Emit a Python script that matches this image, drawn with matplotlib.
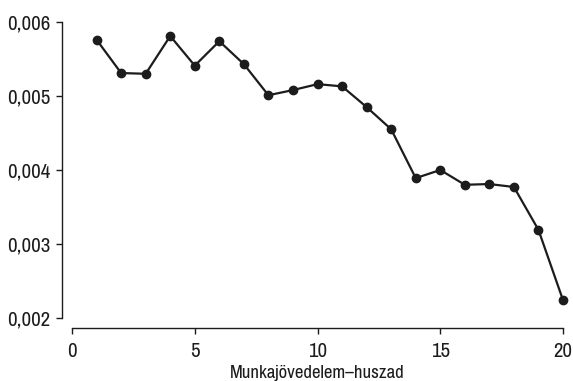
import matplotlib
matplotlib.use("Agg")
import matplotlib.pyplot as plt
from matplotlib.ticker import FuncFormatter

plt.rcParams['font.family'] = ['Archivo Narrow', 'DejaVu Sans']

x = list(range(1, 21))
y = [0.00576, 0.00531, 0.00530, 0.00581, 0.00541, 0.00574, 0.00543, 0.00501,
     0.00508, 0.00516, 0.00513, 0.00485, 0.00455, 0.00389, 0.00400, 0.00380,
     0.00381, 0.00377, 0.00319, 0.00224]
xticks = [0, 5, 10, 15, 20]
yticks = [0.002, 0.003, 0.004, 0.005, 0.006]
xlabel = "Munkajövedelem–huszad"

fig = plt.figure(figsize=(5.73, 3.81), dpi=100)
ax = fig.add_axes([0.1257, 0.1654, 0.8569, 0.7769])
col = '#1c1c1c'
ax.plot(x, y, color=col, lw=1.6, marker='o', ms=6, clip_on=False)
ax.set_xlim(0, 20)
ax.set_ylim(0.002, 0.006)
ax.set_xticks(xticks)
ax.set_yticks(yticks)
ax.yaxis.set_major_formatter(FuncFormatter(lambda v, p: f"{v:.3f}".replace('.', ',')))
ax.xaxis.set_major_formatter(FuncFormatter(lambda v, p: f"{v:.0f}"))
for s in ['top', 'right']:
    ax.spines[s].set_visible(False)
for s in ['left', 'bottom']:
    ax.spines[s].set_position(('outward', 7))
    ax.spines[s].set_color(col)
    ax.spines[s].set_linewidth(1.0)
ax.tick_params(direction='out', length=4.5, width=1.0, color=col, labelsize=15, labelcolor=col)
ax.tick_params(axis='y', pad=4)
ax.tick_params(axis='x', pad=6)
ax.set_xlabel(xlabel, fontsize=13.5, color=col, labelpad=3)
fig.savefig('out.png', dpi=100)
